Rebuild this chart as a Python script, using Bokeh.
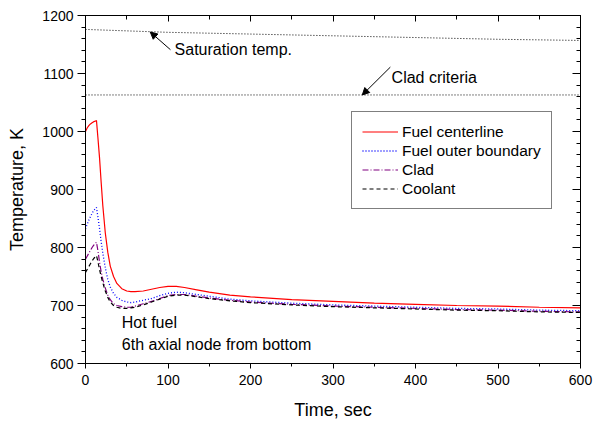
from bokeh.plotting import figure
from bokeh.models import (Range1d, LinearAxis, SingleIntervalTicker, Legend, LegendItem,
                          Label, Arrow, NormalHead, CustomJSTickFormatter)
from bokeh.embed import file_html
from bokeh.resources import INLINE

# ---- data ----
time = [0, 2, 4, 6, 8, 10, 12, 13.3, 15, 17, 19, 21, 24, 27, 30, 34, 38, 44, 50, 55, 60,
        70, 80, 90, 100, 110, 120, 135, 150, 175, 200, 250, 300, 350, 400, 450, 500, 550, 600]
fuel_centerline = [1000, 1006, 1010, 1013, 1015, 1017, 1018, 1019, 990, 955, 912, 872, 825, 792,
                   768, 750, 738, 729, 725, 724, 724, 725, 728, 731, 733, 733, 731, 727, 723,
                   718, 715, 710, 707, 704, 702, 700, 699, 697, 696]
fuel_outer = [832, 840, 847, 853, 859, 864, 867, 869, 853, 833, 810, 790, 765, 745, 732, 721,
              714, 709, 706, 705, 706, 709, 712, 717, 721, 723, 722, 719, 716, 711, 708, 704,
              701, 699, 697, 695, 694, 692, 691]
clad = [780, 785, 790, 795, 800, 804, 807, 809, 795, 775, 758, 745, 730, 718, 710, 703, 700,
        698, 697, 697, 699, 703, 707, 712, 717, 719, 719, 716, 713, 709, 706, 702, 699, 697,
        695, 693, 692, 690, 689]
coolant = [757, 762, 767, 772, 777, 781, 784, 786, 776, 762, 750, 739, 725, 714, 706, 700, 697,
           695, 695, 696, 697, 701, 706, 711, 716, 718, 718, 715, 712, 708, 705, 701, 698, 696,
           694, 692, 691, 689, 688]
sat_time = [0, 100, 200, 300, 400, 500, 600]
sat_temp = [1176, 1171, 1168, 1165, 1162, 1159, 1157]
crit_time = [0, 600]
crit_temp = [1063, 1063]

series_labels = ["Fuel centerline", "Fuel outer boundary", "Clad", "Coolant"]
x_label = "Time, sec"
y_label = "Temperature, K"

# annotation anchors (data units)
sat_text = ("Saturation temp.", 108, 1141)
sat_arrow = (103, 1141, 78.5, 1171.5)
crit_text = ("Clad criteria", 371, 1093)
crit_arrow = (369.5, 1111, 335.5, 1063)
note_lines = [("Hot fuel", 44, 670), ("6th axial node from bottom", 44, 633)]

FONT = "Liberation Sans"

p = figure(width=606, height=423, output_backend="svg", toolbar_location=None,
           x_range=Range1d(0, 600), y_range=Range1d(600, 1200),
           min_border_left=85, min_border_right=26, min_border_top=15, min_border_bottom=60)
p.grid.visible = False
p.outline_line_color = "black"
p.outline_line_width = 1
p.background_fill_color = "white"
p.border_fill_color = "white"

# main axes
p.xaxis.ticker = SingleIntervalTicker(interval=100, num_minor_ticks=2)
p.yaxis.ticker = SingleIntervalTicker(interval=100, num_minor_ticks=5)
for ax in (p.xaxis[0], p.yaxis[0]):
    ax.axis_line_color = "black"
    ax.major_tick_line_color = "black"
    ax.minor_tick_line_color = "black"
    ax.major_tick_in = 0
    ax.minor_tick_in = 0
    ax.major_label_text_font = FONT
    ax.major_label_text_font_size = "14px"
    ax.major_label_text_color = "black"
    ax.axis_label_text_font = FONT
    ax.axis_label_text_font_size = "18px"
    ax.axis_label_text_font_style = "normal"
    ax.axis_label_text_color = "black"
p.xaxis.axis_label = x_label
p.yaxis.axis_label = y_label
p.xaxis.major_tick_out = 5
p.xaxis.minor_tick_out = 3
p.xaxis.major_label_standoff = 6
p.xaxis.axis_label_standoff = 12
p.yaxis.major_tick_out = 8
p.yaxis.minor_tick_out = 4
p.yaxis.major_label_standoff = 4
p.yaxis.axis_label_standoff = 12

# mirror axes with inward ticks and no labels
blank = CustomJSTickFormatter(code="return '';")
top = LinearAxis(ticker=SingleIntervalTicker(interval=100, num_minor_ticks=2), formatter=blank,
                 major_tick_in=6, major_tick_out=0, minor_tick_in=4, minor_tick_out=0,
                 major_label_standoff=0, axis_line_color="black")
right = LinearAxis(ticker=SingleIntervalTicker(interval=100, num_minor_ticks=5), formatter=blank,
                   major_tick_in=8, major_tick_out=0, minor_tick_in=4, minor_tick_out=0,
                   major_label_standoff=0, axis_line_color="black")
p.add_layout(top, "above")
p.add_layout(right, "right")

# reference lines
p.line(sat_time, sat_temp, line_color="black", line_width=1, line_dash="1 2")
p.line(crit_time, crit_temp, line_color="black", line_width=1, line_dash="1 2")

# series
r1 = p.line(time, fuel_centerline, line_color="red", line_width=1.2)
r2 = p.line(time, fuel_outer, line_color="blue", line_width=1.3, line_dash="1 2")
r3 = p.line(time, clad, line_color="purple", line_width=1.2, line_dash="6 2 1 2")
r4 = p.line(time, coolant, line_color="black", line_width=1.2, line_dash="4 3")

legend = Legend(items=[LegendItem(label=series_labels[0], renderers=[r1]),
                       LegendItem(label=series_labels[1], renderers=[r2]),
                       LegendItem(label=series_labels[2], renderers=[r3]),
                       LegendItem(label=series_labels[3], renderers=[r4])],
                location=(266, 154), label_text_font=FONT, label_text_font_size="15.5px",
                label_text_color="black", glyph_width=36, glyph_height=19, label_height=19,
                spacing=0, padding=10, margin=0, label_standoff=4,
                border_line_color="black", border_line_width=1, background_fill_alpha=1)
p.add_layout(legend)

# annotations
for txt, x, y in [sat_text, crit_text] + note_lines:
    p.add_layout(Label(x=x, y=y, text=txt, text_font=FONT, text_font_size="16px",
                       text_color="black", text_baseline="middle", text_align="left"))
for xs, ys, xe, ye in [sat_arrow, crit_arrow]:
    p.add_layout(Arrow(end=NormalHead(size=7, fill_color="black", line_color="black"),
                       x_start=xs, y_start=ys, x_end=xe, y_end=ye,
                       line_color="black", line_width=1))

open("out.html", "w").write(file_html(p, INLINE))
